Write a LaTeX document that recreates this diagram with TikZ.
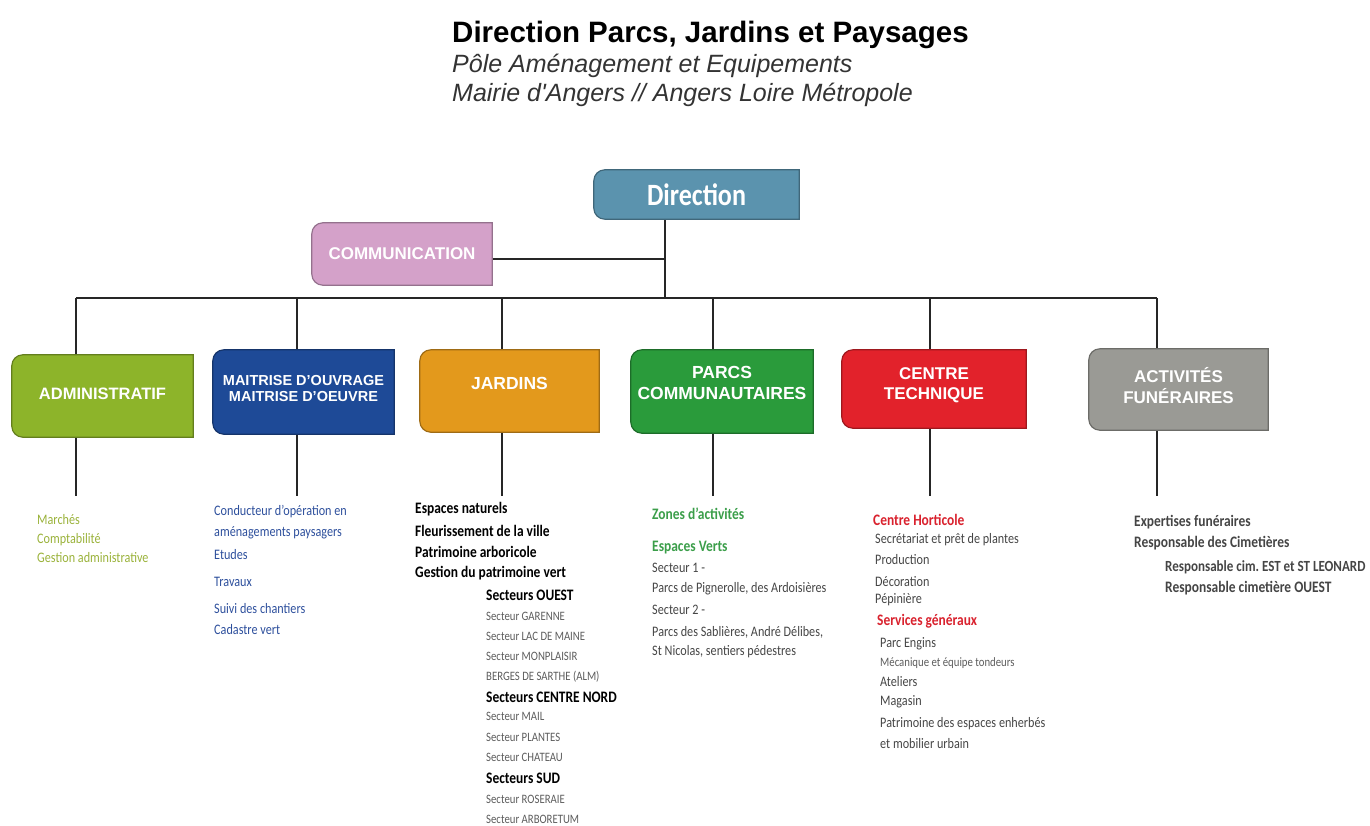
\documentclass[tikz,border=0pt]{standalone}
\usepackage{fontspec}
\setmainfont{Liberation Sans}
\newfontfamily\condfont[FakeStretch=0.84]{Carlito}
\usetikzlibrary{backgrounds}
\definecolor{dirblue}{HTML}{5B93AE}
\definecolor{commpink}{HTML}{D4A1C9}
\definecolor{admgreen}{HTML}{8DB42A}
\definecolor{moablue}{HTML}{1E4A97}
\definecolor{jardorange}{HTML}{E3991C}
\definecolor{parcsgreen}{HTML}{2A9B3B}
\definecolor{ctechred}{HTML}{E2222B}
\definecolor{funergray}{HTML}{9A9A95}
\definecolor{listgreen}{HTML}{9AB23A}
\definecolor{listblue}{HTML}{2D4F9C}
\definecolor{hdgreen}{HTML}{3B9E4A}
\definecolor{hdred}{HTML}{D9222E}
\definecolor{txtgray}{HTML}{454545}
\definecolor{smgray}{HTML}{5C5C5C}

\begin{document}
\begin{tikzpicture}[x=1pt, y=-1pt,
		orgbox/.style={inner sep=0pt, text=white, align=center, font=\bfseries\fontsize{17}{20}\selectfont},
		link/.style={line width=2pt, draw=black!85},
		lst/.style={anchor=west, inner sep=0pt, text=txtgray, font=\condfont\fontsize{14.5}{16}\selectfont},
		lstb/.style={lst, text=black, font=\condfont\bfseries\fontsize{16}{18}\selectfont},
		lsts/.style={lst, text=smgray, font=\condfont\fontsize{12.8}{14}\selectfont}]
			\useasboundingbox (0,0) rectangle (1370,826);
			% title
			\node[anchor=west, inner sep=0pt, font=\bfseries\fontsize{29.5}{32}\selectfont] (title) at (452,35) {Direction Parcs, Jardins et Paysages};
			\node[anchor=west, inner sep=0pt, text=black!80, font=\itshape\fontsize{25}{27}\selectfont] (pole) at (452,66) {Pôle Aménagement et Equipements};
			\node[anchor=west, inner sep=0pt, text=black!80, font=\itshape\fontsize{25}{27}\selectfont] (mairie) at (452,95) {Mairie d\textquotesingle Angers // Angers Loire Métropole};
			% boxes
			\node[orgbox, minimum width=205pt, minimum height=49pt, font=\condfont\bfseries\fontsize{31}{34}\selectfont] (dir) at (696.5,194.5) {Direction};
			\node[orgbox, minimum width=180pt, minimum height=62pt] (comm) at (402,254) {COMMUNICATION};
			\node[orgbox, minimum width=181pt, minimum height=82pt, text depth=4pt, font=\bfseries\fontsize{16.5}{20}\selectfont] (admin) at (102.5,396) {ADMINISTRATIF};
			\node[orgbox, minimum width=181pt, minimum height=84pt, text depth=8pt, font=\bfseries\fontsize{14.5}{16}\selectfont] (moa) at (303.5,392) {MAITRISE D’OUVRAGE\\MAITRISE D’OEUVRE};
			\node[orgbox, minimum width=179pt, minimum height=82pt, text depth=16pt, font=\bfseries\fontsize{17.5}{21}\selectfont] (jard) at (509.5,391) {JARDINS};
			\node[orgbox, minimum width=182pt, minimum height=83pt, text depth=18pt, font=\bfseries\fontsize{17.5}{21}\selectfont] (parcs) at (722,391.5) {PARCS\\COMMUNAUTAIRES};
			\node[orgbox, minimum width=184pt, minimum height=78pt, text depth=10pt, font=\bfseries\fontsize{17}{20}\selectfont] (ctech) at (934,389) {CENTRE\\TECHNIQUE};
			\node[orgbox, minimum width=179pt, minimum height=81pt, text depth=8pt, font=\bfseries\fontsize{17}{21}\selectfont] (funer) at (1178.5,389.5) {ACTIVITÉS\\FUNÉRAIRES};
			% lines and box fills
			\begin{scope}[on background layer]
				\coordinate (bus) at (0,298);
				\coordinate (drop) at (0,496);
				\coordinate (dirtap) at ([xshift=71pt]dir.south west);
				\coordinate (commtap) at ([yshift=-5pt]comm.east);
				\draw[link] (dirtap) -- (dirtap |- bus);
				\draw[link] (commtap) -- (commtap -| dirtap);
				\draw[link] ([xshift=64pt]admin.north west |- bus) -- ([xshift=68pt]funer.north west |- bus);
				\foreach \n/\dx in {admin/64, moa/84, jard/82, parcs/82, ctech/88, funer/68}
					\draw[link] ([xshift=\dx pt]\n.north west |- bus) -- ([xshift=\dx pt]\n.south west |- drop);
				\foreach \n/\c in {dir/dirblue, comm/commpink, admin/admgreen, moa/moablue, jard/jardorange, parcs/parcsgreen, ctech/ctechred, funer/funergray}
					\filldraw[fill=\c, draw=\c!70!black, line width=1.2pt] (\n.north east) [rounded corners=11pt] -- (\n.north west) -- (\n.south west) [sharp corners] -- (\n.south east) -- cycle;
			\end{scope}
			% administratif
			\foreach \y/\t [count=\i] in {520/Marchés, 540/Comptabilité, 558/Gestion administrative}
				\node[lst, text=listgreen] (adm\i) at (37,\y) {\t};
			% maitrise
			\foreach \y/\t [count=\i] in {512/Conducteur d’opération en, 533/aménagements paysagers, 555/Etudes, 582/Travaux, 609/Suivi des chantiers, 630/Cadastre vert}
				\node[lst, text=listblue] (moa\i) at (214,\y) {\t};
			% jardins
			\foreach \y/\t [count=\i] in {509/Espaces naturels, 531/Fleurissement de la ville, 552/Patrimoine arboricole, 573/Gestion du patrimoine vert}
				\node[lstb] (jard\i) at (415,\y) {\t};
			\foreach \y/\t in {595/OUEST, 697/CENTRE NORD, 778/SUD}
				\node[lstb] (sect\y) at (486,\y) {Secteurs \t};
			\foreach \y/\t [count=\i] in {616/Secteur GARENNE, 636/Secteur LAC DE MAINE, 656/Secteur MONPLAISIR, 677/BERGES DE SARTHE (ALM), 716/Secteur MAIL, 737/Secteur PLANTES, 757/Secteur CHATEAU, 799/Secteur ROSERAIE, 819/Secteur ARBORETUM}
				\node[lsts] (sub\i) at (486,\y) {\t};
			% parcs communautaires
			\node[lstb, text=hdgreen] (zones) at (652,514) {Zones d’activités};
			\node[lstb, text=hdgreen] (ev) at (652,548) {Espaces Verts};
			\foreach \y/\t [count=\i] in {568/{Secteur 1 -}, 589/{Parcs de Pignerolle, des Ardoisières}, 610/{Secteur 2 -}, 632/{Parcs des Sablières, André Délibes,}, 652/{St Nicolas, sentiers pédestres}}
				\node[lst] (pc\i) at (652,\y) {\t};
			% centre technique
			\node[lstb, text=hdred] (horti) at (873,520) {Centre Horticole};
			\foreach \y/\t [count=\i] in {540/Secrétariat et prêt de plantes, 560/Production, 582/Décoration, 600/Pépinière}
				\node[lst] (ho\i) at (875,\y) {\t};
			\node[lstb, text=hdred] (servg) at (877,621) {Services généraux};
			\foreach \y/\t [count=\i] in {644/Parc Engins, 682/Ateliers, 702/Magasin, 724/Patrimoine des espaces enherbés, 744/et mobilier urbain}
				\node[lst] (sg\i) at (880,\y) {\t};
			\node[lsts] (meca) at (880,663) {Mécanique et équipe tondeurs};
			% activites funeraires
			\node[lstb, text=txtgray] (expert) at (1134,522) {Expertises funéraires};
			\node[lstb, text=txtgray] (respc) at (1134,543) {Responsable des Cimetières};
			\node[lstb, text=txtgray, font=\condfont\bfseries\fontsize{15.5}{18}\selectfont] (respe) at (1165,567) {Responsable cim.\ EST et ST LEONARD};
			\node[lstb, text=txtgray] (respo) at (1165,588) {Responsable cimetière OUEST};
		\end{tikzpicture}
\end{document}
